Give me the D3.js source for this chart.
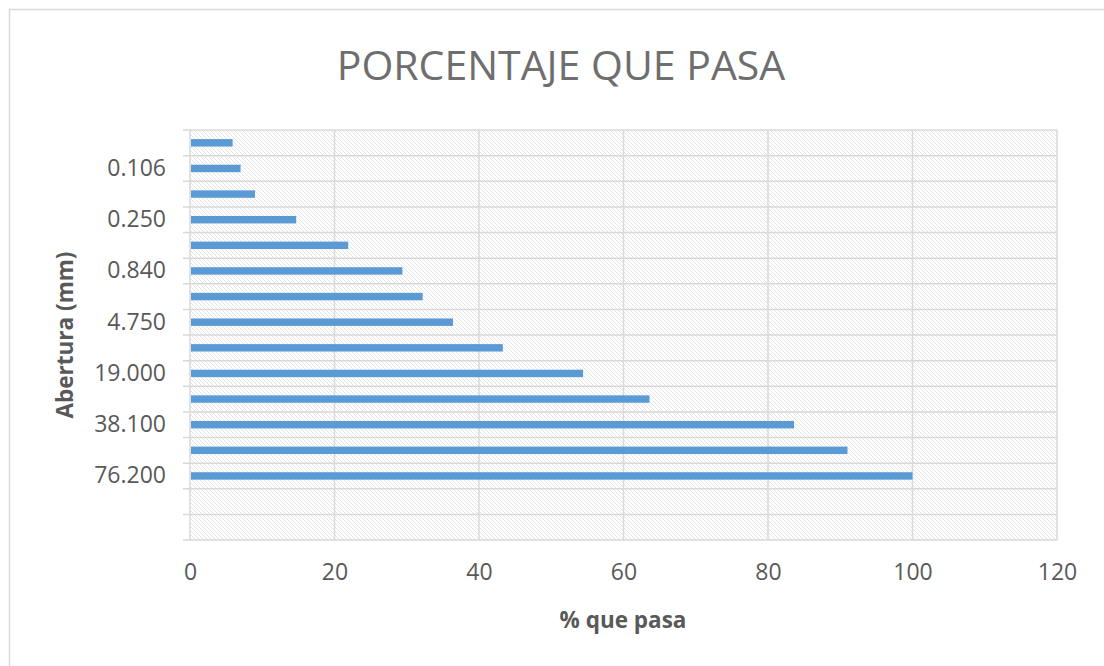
<!DOCTYPE html>
<html>
<head>
<meta charset="utf-8">
<script src="https://cdn.jsdelivr.net/npm/d3@7"></script>
<style>
  body { margin: 0; background: #fff; }
  text { font-family: "Open Sans", sans-serif; }
</style>
</head>
<body>
<div id="chart"></div>
<script>
// Data (top to bottom, as drawn)
var aberturas = ["0.075", "0.106", "0.150", "0.250", "0.425", "0.840", "2.000", "4.750",
                 "9.525", "19.000", "25.400", "38.100", "50.800", "76.200", "", ""];
var porcentaje = [5.9, 7.0, 9.0, 14.7, 21.9, 29.4, 32.2, 36.4,
                  43.3, 54.4, 63.6, 83.6, 91.0, 100, null, null];
var xTicks = [0, 20, 40, 60, 80, 100, 120];

var width = 1104,
    height = 666,
    margin = {top: 130, right: 47, bottom: 126, left: 190};

var svg = d3.select("#chart").append("svg")
    .attr("width", width)
    .attr("height", height);

// hatch pattern for the plot area
var defs = svg.append("defs");
var pat = defs.append("pattern")
    .attr("id", "hatch")
    .attr("patternUnits", "userSpaceOnUse")
    .attr("width", 4)
    .attr("height", 4);
pat.append("rect").attr("width", 4).attr("height", 4).attr("fill", "#fff");
pat.append("path")
    .attr("d", "M-1,-1 L5,5 M-1,3 L1,5 M3,-1 L5,1")
    .attr("stroke", "#e2e2e2")
    .attr("stroke-width", 0.9);

// outer chart border (runs off the right and bottom edges)
svg.append("rect")
    .attr("x", 9.5).attr("y", 9.5)
    .attr("width", width + 20).attr("height", height + 20)
    .attr("fill", "#fff")
    .attr("stroke", "#d9d9d9")
    .attr("stroke-width", 1.5);

var innerW = width - margin.left - margin.right,
    innerH = height - margin.top - margin.bottom;

var x = d3.scaleLinear()
    .domain([0, 120])
    .range([margin.left, margin.left + innerW]);

var y = d3.scaleBand()
    .domain(d3.range(aberturas.length))
    .range([margin.top, margin.top + innerH])
    .paddingInner(0)
    .paddingOuter(0);

// plot background
svg.append("rect")
    .attr("x", margin.left).attr("y", margin.top)
    .attr("width", innerW).attr("height", innerH)
    .attr("fill", "url(#hatch)");

// horizontal gridlines at category boundaries (with small outside ticks)
var bounds = d3.range(aberturas.length + 1).map(function(i) { return margin.top + i * y.step(); });
svg.append("g").selectAll("line")
    .data(bounds)
  .enter().append("line")
    .attr("x1", margin.left - 7)
    .attr("x2", margin.left + innerW)
    .attr("y1", function(d) { return d; })
    .attr("y2", function(d) { return d; })
    .attr("stroke", "#d9d9d9")
    .attr("stroke-width", 1.5);

// vertical gridlines
svg.append("g").selectAll("line")
    .data(xTicks)
  .enter().append("line")
    .attr("x1", function(d) { return x(d); })
    .attr("x2", function(d) { return x(d); })
    .attr("y1", margin.top)
    .attr("y2", margin.top + innerH)
    .attr("stroke", "#d9d9d9")
    .attr("stroke-width", 1.5);

// bars
var barH = y.bandwidth() * 0.29;
svg.append("g").selectAll("rect")
    .data(porcentaje.map(function(v, i) { return {i: i, v: v}; }).filter(function(d) { return d.v != null; }))
  .enter().append("rect")
    .attr("x", x(0) + 1)
    .attr("y", function(d) { return y(d.i) + y.bandwidth() / 2 - barH / 2; })
    .attr("width", function(d) { return x(d.v) - x(0) - 1; })
    .attr("height", barH)
    .attr("fill", "#5b9bd5");

// y axis labels (every other category)
var yAxis = d3.axisLeft(y)
    .tickValues(d3.range(aberturas.length).filter(function(i) { return (aberturas.length - 1 - i) % 2 === 0; }))
    .tickFormat(function(i) { return aberturas[i]; })
    .tickSize(0)
    .tickPadding(24);
var gy = svg.append("g")
    .attr("transform", "translate(" + margin.left + ",0)")
    .call(yAxis);
gy.select(".domain").remove();
gy.selectAll("text")
    .attr("fill", "#595959")
    .style("font-size", "23px");

// x axis labels
var xAxis = d3.axisBottom(x)
    .tickValues(xTicks)
    .tickSize(0)
    .tickPadding(24);
var gx = svg.append("g")
    .attr("transform", "translate(0," + (margin.top + innerH) + ")")
    .call(xAxis);
gx.select(".domain").remove();
gx.selectAll("text")
    .attr("fill", "#595959")
    .style("font-size", "23px");

// title
svg.append("text")
    .attr("x", 561)
    .attr("y", 80)
    .attr("text-anchor", "middle")
    .attr("fill", "#6e6e6e")
    .style("font-size", "41px")
    .text("PORCENTAJE QUE PASA");

// axis titles
svg.append("text")
    .attr("x", 623)
    .attr("y", 628)
    .attr("text-anchor", "middle")
    .attr("fill", "#595959")
    .style("font-size", "22.5px")
    .style("font-weight", "bold")
    .text("% que pasa");

svg.append("text")
    .attr("transform", "translate(73,335) rotate(-90)")
    .attr("text-anchor", "middle")
    .attr("fill", "#595959")
    .style("font-size", "22.5px")
    .style("font-weight", "bold")
    .text("Abertura (mm)");
</script>
</body>
</html>
